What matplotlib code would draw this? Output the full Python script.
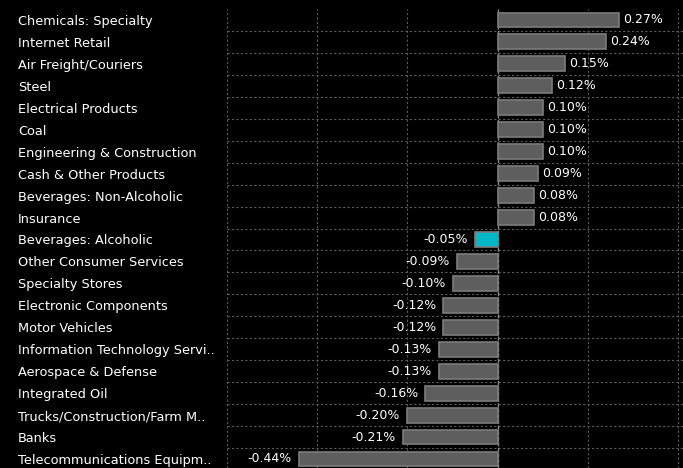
import matplotlib.pyplot as plt
from matplotlib.ticker import FixedLocator

categories = [
    'Chemicals: Specialty', 'Internet Retail', 'Air Freight/Couriers', 'Steel',
    'Electrical Products', 'Coal', 'Engineering & Construction',
    'Cash & Other Products', 'Beverages: Non-Alcoholic', 'Insurance',
    'Beverages: Alcoholic', 'Other Consumer Services', 'Specialty Stores',
    'Electronic Components', 'Motor Vehicles', 'Information Technology Servi..',
    'Aerospace & Defense', 'Integrated Oil', 'Trucks/Construction/Farm M..',
    'Banks', 'Telecommunications Equipm..',
]
values = [0.27, 0.24, 0.15, 0.12, 0.10, 0.10, 0.10, 0.09, 0.08, 0.08,
          -0.05, -0.09, -0.10, -0.12, -0.12, -0.13, -0.13, -0.16, -0.20,
          -0.21, -0.44]
highlight = 'Beverages: Alcoholic'

fig = plt.figure(figsize=(6.83, 4.68), dpi=100, facecolor='black')
n = len(categories)
row_px = 21.95
span = n - 0.59 + 0.5
ax = fig.add_axes([227 / 683, (468 - 9 - span * row_px) / 468, 456 / 683, span * row_px / 468],
                  facecolor='black')

ypos = list(range(n))
colors = ['#00b8c8' if c == highlight else '#5e5e5e' for c in categories]
ax.barh(ypos, values, height=0.68, color=colors, edgecolor='#7c7c7c', linewidth=1.2, zorder=3)

for y, v in zip(ypos, values):
    if v >= 0:
        ax.text(v + 0.009, y, f'{v:.2f}%', color='white', fontsize=9,
                va='center', ha='left', zorder=4)
    else:
        ax.text(v - 0.016, y, f'{v:.2f}%', color='white', fontsize=9,
                va='center', ha='right', zorder=4)

ax.set_xlim(-0.6, 0.411)
ax.set_ylim(n - 0.59, -0.5)

ax.set_xticks([-0.6, -0.4, -0.2, 0.2, 0.4])
ax.set_yticks(ypos)
ax.set_yticklabels(categories, ha='left', color='white', fontsize=9.3)
ax.yaxis.set_minor_locator(FixedLocator([i + 0.5 for i in ypos[:-1]]))
ax.tick_params(axis='y', which='both', length=0, pad=209 * 0.72)
ax.tick_params(axis='x', length=0, labelbottom=False)

ax.grid(axis='x', color='#5a5a5a', linestyle=(0, (2, 2)), linewidth=0.8, zorder=0)
ax.grid(axis='y', which='minor', color='#5a5a5a', linestyle=(0, (2, 2)), linewidth=0.8, zorder=0)
ax.grid(axis='y', which='major', visible=False)
ax.axvline(0, color='#8a8a8a', linestyle=(0, (3, 1)), linewidth=1.0, zorder=2)
for s in ax.spines.values():
    s.set_visible(False)

fig.savefig('out.png', dpi=100, facecolor='black')
